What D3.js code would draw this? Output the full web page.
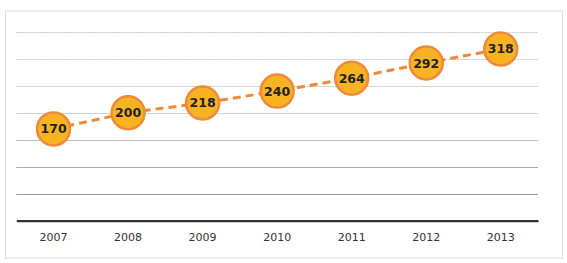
<!DOCTYPE html>
<html><head><meta charset="utf-8">
<script src="https://cdn.jsdelivr.net/npm/d3@7"></script>
<style>body{margin:0;background:#fff}svg{display:block}</style>
</head><body>
<svg id="c" width="567" height="263"></svg>
<script>
const years = ["2007","2008","2009","2010","2011","2012","2013"];
const values = [170,200,218,240,264,292,318];
const gridTicks = [50,100,150,200,250,300,350];

const svg = d3.select("#c");
const L = 16.3, R = 538, T = 31.7, B = 220.7;
svg.append("rect").attr("x",5.5).attr("y",11.5).attr("width",557).attr("height",246.5)
  .attr("fill","#fff").attr("stroke","#dcdcdc").attr("stroke-width",1);
svg.append("rect").attr("x",5).attr("y",10).attr("width",558).attr("height",2).attr("fill","#ececec");

const x = d3.scaleBand().domain(years).range([L,R]);
const y = d3.scaleLinear().domain([0,350]).range([B,T]);

const gridStyle = {350:["#c8c8c8","2,1"],300:["#c8c8c8","2,1"],250:["#d6d6d6",null],200:["#d0d0d0",null],150:["#bdbdbd",null],100:["#aaaaaa",null],50:["#9a9a9a",null]};
svg.append("g").selectAll("line").data(gridTicks).join("line")
  .attr("x1",L).attr("x2",R)
  .attr("y1",d=>Math.round(y(d))+0.5).attr("y2",d=>Math.round(y(d))+0.5)
  .attr("stroke",d=>gridStyle[d][0]).attr("stroke-width",1)
  .attr("stroke-dasharray",d=>gridStyle[d][1]);

const xAxis = d3.axisBottom(x).tickSize(0).tickPadding(13);
const gx = svg.append("g").attr("transform",`translate(0,${B})`).call(xAxis);
gx.select(".domain").attr("stroke","#333").attr("stroke-width",2.2);
gx.selectAll("text").attr("font-family","Verdana, 'DejaVu Sans', sans-serif").attr("font-size","11px").attr("fill","#333");

const cx = d => x(d) + x.bandwidth()/2;
const line = d3.line().x((d,i)=>cx(years[i])).y(d=>y(d));
svg.append("path").datum(values).attr("d",line).attr("fill","none")
  .attr("stroke","#F0883A").attr("stroke-width",3).attr("stroke-dasharray","8,5");

const g = svg.append("g").selectAll("g").data(values).join("g")
  .attr("transform",(d,i)=>`translate(${cx(years[i])},${y(d)})`);
g.append("circle").attr("r",16.5).attr("fill","#F7B322").attr("stroke","#EF8A3C").attr("stroke-width",2.5);
g.append("text").text(d=>d).attr("text-anchor","middle").attr("dy","0.36em")
  .attr("font-family","'DejaVu Sans', Verdana, sans-serif").attr("font-weight","bold")
  .attr("font-size","12.5px").attr("fill","#222");
</script>
</body></html>
